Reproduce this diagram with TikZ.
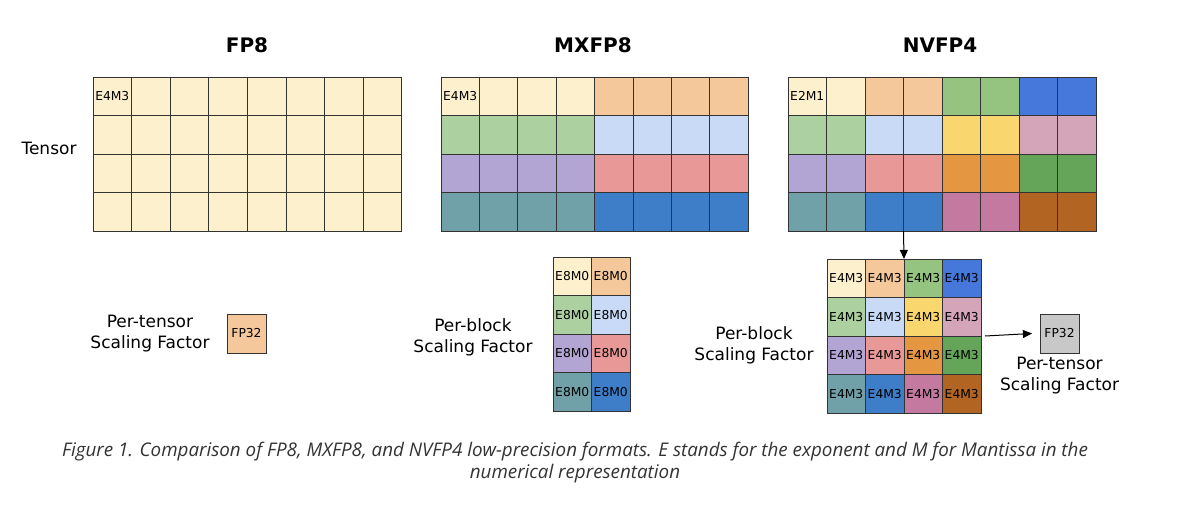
\documentclass[tikz,border=0pt]{standalone}
\usepackage{fontspec}
\setmainfont{DejaVu Sans}
\newfontfamily\capfont{Open Sans}
\usetikzlibrary{arrows.meta,positioning}
\definecolor{fpcream}{RGB}{253,240,205}
\definecolor{fppeach}{RGB}{245,200,155}
\definecolor{fplgreen}{RGB}{172,208,160}
\definecolor{fplblue}{RGB}{200,218,245}
\definecolor{fplav}{RGB}{178,165,212}
\definecolor{fpsalmon}{RGB}{232,152,150}
\definecolor{fpteal}{RGB}{112,160,168}
\definecolor{fpblue}{RGB}{62,125,200}
\definecolor{nvgreen}{RGB}{148,196,128}
\definecolor{nvroyal}{RGB}{70,120,220}
\definecolor{nvyellow}{RGB}{250,215,110}
\definecolor{nvmauve}{RGB}{212,165,185}
\definecolor{nvorange}{RGB}{228,150,65}
\definecolor{nvmidgreen}{RGB}{100,165,90}
\definecolor{nvmagenta}{RGB}{196,122,160}
\definecolor{nvbrown}{RGB}{178,100,35}
\definecolor{fpgray}{RGB}{200,200,200}

\begin{document}
\begin{tikzpicture}[x=1pt, y=-1pt,
  cell/.style={draw=black!80, line width=0.9pt, minimum size=38.5pt,
    inner sep=0pt, outer sep=0pt, font=\fontsize{12.3}{14}\selectfont},
  title/.style={font=\fontsize{20}{24}\selectfont\bfseries},
  lbl/.style={font=\fontsize{17}{21}\selectfont, align=center},
  arr/.style={-{Triangle[length=3.2mm, width=2.8mm]}, line width=1pt}]
\useasboundingbox (0,0) rectangle (1200,514);
% Titles
\node[title] (t8) at (247,45) {FP8};
\node[title] (tmx) at (593,45) {MXFP8};
\node[title] (tnv) at (940,45) {NVFP4};
\node[lbl] (tens) at (49,148) {Tensor};
% FP8 tensor
\foreach \r in {1,...,4}
  \foreach \c in {1,...,8}
    \node[cell, fill=fpcream] (fp-\r-\c) at ({93+38.6*(\c-0.5)}, {77+38.5*(\r-0.5)}) {};
\node[cell, draw=none, fill=none] at (fp-1-1) {E4M3};
% MXFP8 tensor
\foreach \r/\ca/\cb in {1/fpcream/fppeach, 2/fplgreen/fplblue, 3/fplav/fpsalmon, 4/fpteal/fpblue}{
  \foreach \c in {1,...,4}
    \node[cell, fill=\ca] (mx-\r-\c) at ({441+38.4*(\c-0.5)}, {77+38.5*(\r-0.5)}) {};
  \foreach \c in {5,...,8}
    \node[cell, fill=\cb] (mx-\r-\c) at ({441+38.4*(\c-0.5)}, {77+38.5*(\r-0.5)}) {};
  % per-block scales
  \node[cell, fill=\ca] (mxs-\r-1) at ({553+38.5*0.5}, {257+38.5*(\r-0.5)}) {E8M0};
  \node[cell, fill=\cb] (mxs-\r-2) at ({553+38.5*1.5}, {257+38.5*(\r-0.5)}) {E8M0};
}
\node[cell, draw=none, fill=none] at (mx-1-1) {E4M3};
% NVFP4 tensor
\foreach \r/\clist in {1/{fpcream,fppeach,nvgreen,nvroyal},
    2/{fplgreen,fplblue,nvyellow,nvmauve},
    3/{fplav,fpsalmon,nvorange,nvmidgreen},
    4/{fpteal,fpblue,nvmagenta,nvbrown}}{
  \foreach \k [count=\b] in \clist {
    \node[cell, fill=\k] (nv-\r-\the\numexpr2*\b-1\relax) at ({788+38.5*(2*\b-1.5)}, {77+38.5*(\r-0.5)}) {};
    \node[cell, fill=\k] (nv-\r-\the\numexpr2*\b\relax) at ({788+38.5*(2*\b-0.5)}, {77+38.5*(\r-0.5)}) {};
    % per-block scales
    \node[cell, fill=\k] (nvs-\r-\b) at ({827+38.5*(\b-0.5)}, {259+38.5*(\r-0.5)}) {E4M3};
  }
}
\node[cell, draw=none, fill=none] at (nv-1-1) {E2M1};
% Scaling factors
\node[cell, fill=fppeach, minimum size=39pt] (fpsf) at (246.5,333.5) {FP32};
\node[lbl, left=14pt of fpsf] (fpsfl) {Per-tensor\\Scaling Factor};
\node[lbl, anchor=east] (mxsl) at (536,337) {Per-block\\Scaling Factor};
\node[lbl, anchor=east] (nvsl) at (817,345) {Per-block\\Scaling Factor};
\node[cell, fill=fpgray, minimum size=39pt] (nvsf) at (1059.5,333.5) {FP32};
\node[lbl, below=1pt of nvsf] (nvsfl) {Per-tensor\\Scaling Factor};
\draw[arr] (nv-4-3.south east) -- (nvs-1-2.north east);
\draw[arr] ([xshift=4pt]nvs-2-4.south east) -- ([xshift=-8pt]nvsf.west);
% Caption
\node[font=\capfont\itshape\fontsize{18.8}{22}\selectfont, text=black!80, align=center] (cap) at (575,463)
  {Figure 1. Comparison of FP8, MXFP8, and NVFP4 low-precision formats. E stands for the exponent and M for Mantissa in the\\numerical representation};
\end{tikzpicture}
\end{document}
